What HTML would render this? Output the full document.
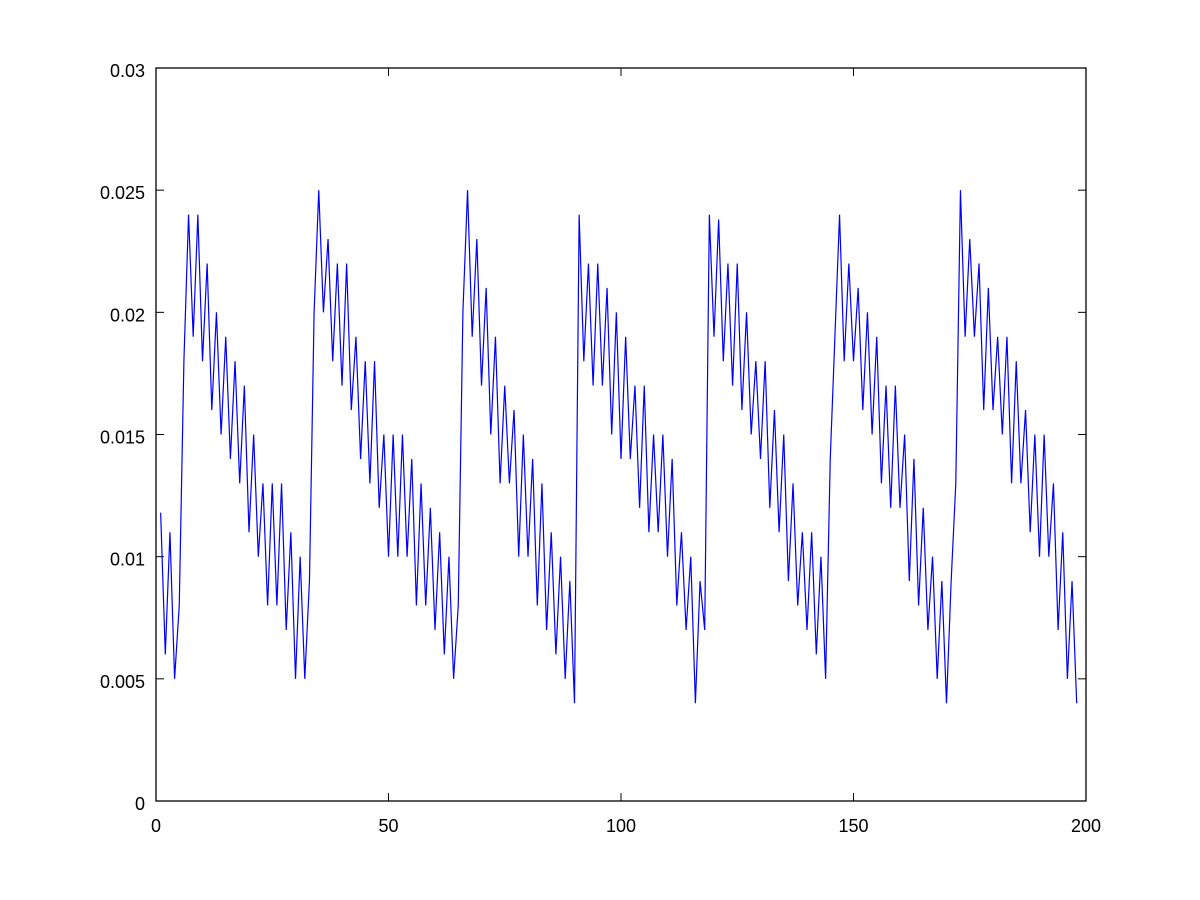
<!DOCTYPE html>
<html><head><meta charset="utf-8"><style>
html,body{margin:0;padding:0;background:#fff;}
svg{display:block;font-family:"Liberation Sans",sans-serif;}
</style></head><body>
<svg id="chart" width="1200" height="900">
<rect x="0" y="0" width="1200" height="900" fill="#fff"/>
<g id="ticks"></g>
<polyline id="series" fill="none" stroke="#0000ff" stroke-width="1.2"/>
<rect x="156" y="68" width="930" height="733" fill="none" stroke="#000" stroke-width="1.3"/>
</svg>
<script>
const yValues = [11.8,6,11,5,8,18,24,19,24,18,22,16,20,15,19,14,18,13,17,11,15,10,13,8,13,8,13,7,11,5,10,5,9,20,25,20,23,18,22,17,22,16,19,14,18,13,18,12,15,10,15,10,15,10,14,8,13,8,12,7,11,6,10,5,8,20,25,19,23,17,21,15,19,13,17,13,16,10,15,10,14,8,13,7,11,6,10,5,9,4,24,18,22,17,22,17,21,15,20,14,19,14,17,12,17,11,15,11,15,10,14,8,11,7,10,4,9,7,24,19,23.8,18,22,17,22,16,20,15,18,14,18,12,16,11,15,9,13,8,11,7,11,6,10,5,14,19,24,18,22,18,21,16,20,15,19,13,17,12,17,12,15,9,14,8,12,7,10,5,9,4,9,13,25,19,23,19,22,16,21,16,19,15,19,13,18,13,16,11,15,10,15,10,13,7,11,5,9,4];
const xTicks = [0,50,100,150,200];
const yTicks = [0,0.005,0.01,0.015,0.02,0.025,0.03];
const yTickLabels = ["0","0.005","0.01","0.015","0.02","0.025","0.03"];
const X0=156,X1=1086,Y0=801,Y1=68;
const sx=v=>X0+(v/200)*(X1-X0);
const sy=v=>Y0-(v/0.03)*(Y0-Y1);
const ns="http://www.w3.org/2000/svg";
const g=document.getElementById('ticks');
function line(x1,y1,x2,y2){const l=document.createElementNS(ns,'line');l.setAttribute('x1',x1);l.setAttribute('y1',y1);l.setAttribute('x2',x2);l.setAttribute('y2',y2);l.setAttribute('stroke','#000');g.appendChild(l);return l;}
xTicks.forEach(t=>{const x=sx(t);
 const a=line(x,Y0,x,Y0-8);
 
 
 const b=line(x,Y1,x,Y1+8);
 
 
 const tx=document.createElementNS(ns,'text');tx.setAttribute('x',x);tx.setAttribute('y',Y0+31);tx.setAttribute('text-anchor','middle');tx.setAttribute('font-size','18');tx.textContent=String(t);
 
 
 g.appendChild(tx);});
yTicks.forEach((t,i)=>{const y=sy(t);
 const a=line(X0,y,X0+8,y);
 
 
 const b=line(X1,y,X1-8,y);
 
 
 const tx=document.createElementNS(ns,'text');tx.setAttribute('x',X0-11);tx.setAttribute('y',y+9);tx.setAttribute('text-anchor','end');tx.setAttribute('font-size','18');tx.textContent=yTickLabels[i];
 
 
 g.appendChild(tx);});
document.getElementById('series').setAttribute('points',yValues.map((v,i)=>sx(i+1)+','+sy(v/1000)).join(' '));
</script>
</body></html>
